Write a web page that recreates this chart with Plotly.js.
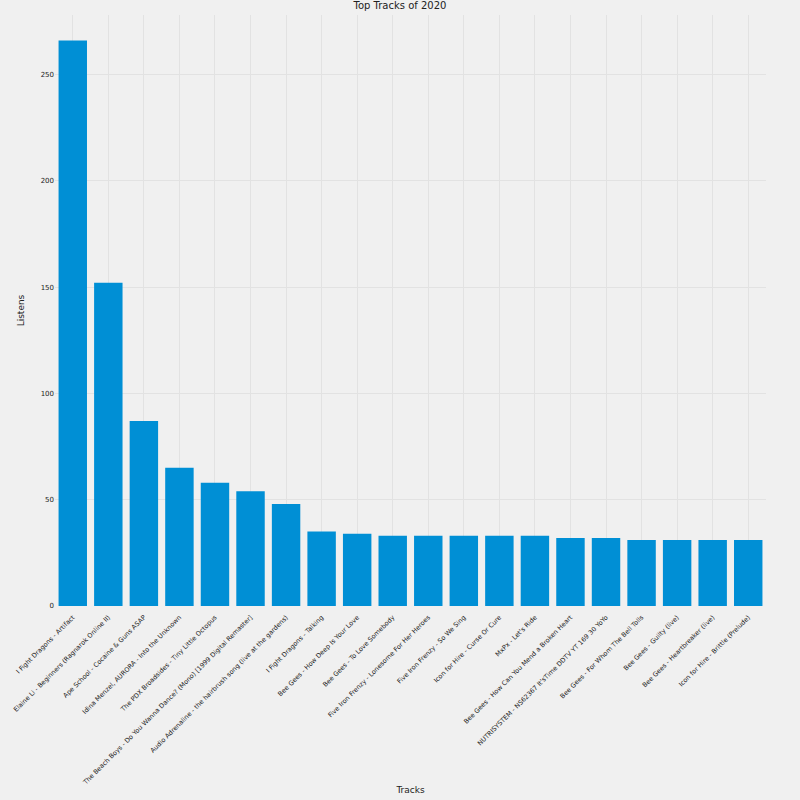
<!DOCTYPE html>
<html>
<head>
<meta charset="utf-8">
<script src="https://cdn.plot.ly/plotly-3.0.1.min.js"></script>
<style>html,body{margin:0;padding:0;background:#f0f0f0;}</style>
</head>
<body>
<div id="chart" style="width:800px;height:800px;"></div>
<script>
var tracks = [
  "I Fight Dragons - Artifact",
  "Elaine Li - Beginners (Ragnarok Online II)",
  "Ape School - Cocaine & Guns ASAP",
  "Idina Menzel, AURORA - Into the Unknown",
  "The PDX Broadsides - Tiny Little Octopus",
  "The Beach Boys - Do You Wanna Dance? (Mono) [1999 Digital Remaster]",
  "Audio Adrenaline - the hairbrush song (live at the gardens)",
  "I Fight Dragons - Talking",
  "Bee Gees - How Deep Is Your Love",
  "Bee Gees - To Love Somebody",
  "Five Iron Frenzy - Lonesome For Her Heroes",
  "Five Iron Frenzy - So We Sing",
  "Icon for Hire - Curse Or Cure",
  "MxPx - Let's Ride",
  "Bee Gees - How Can You Mend a Broken Heart",
  "NUTRISYSTEM - NS62367 It'sTime DDTV YT 169 30 YoYo",
  "Bee Gees - For Whom The Bell Tolls",
  "Bee Gees - Guilty (live)",
  "Bee Gees - Heartbreaker (live)",
  "Icon for Hire - Brittle (Prelude)"
];
var listens = [266, 152, 87, 65, 58, 54, 48, 35, 34, 33, 33, 33, 33, 33, 32, 32, 31, 31, 31, 31];

var data = [{
  type: "bar",
  x: tracks,
  y: listens,
  marker: {color: "#008fd5"},
  hoverinfo: "x+y"
}];

var layout = {
  width: 800, height: 800,
  paper_bgcolor: "#f0f0f0",
  plot_bgcolor: "#f0f0f0",
  margin: {l: 55, r: 34, t: 15, b: 194},
  bargap: 0.2,
  font: {family: "DejaVu Sans", color: "#222", size: 8},
  title: {text: "Top Tracks of 2020", font: {size: 10}, x: 0.5, y: 0.997, yanchor: "top"},
  xaxis: {
    title: {text: "Tracks", font: {size: 9}, standoff: 0},
    tickangle: -45,
    showgrid: true, gridcolor: "#e2e2e2",
    tickfont: {size: 6.5},
    ticks: "outside", ticklen: 4, tickcolor: "rgba(0,0,0,0)",
    automargin: false
  },
  yaxis: {
    title: {text: "Listens", font: {size: 9}, standoff: 14},
    range: [0, 278],
    tickvals: [0, 50, 100, 150, 200, 250],
    gridcolor: "#e2e2e2",
    zeroline: false,
    tickfont: {size: 7},
    ticklen: 0,
    automargin: false
  },
  showlegend: false
};

Plotly.newPlot("chart", data, layout, {displayModeBar: false});
</script>
</body>
</html>
